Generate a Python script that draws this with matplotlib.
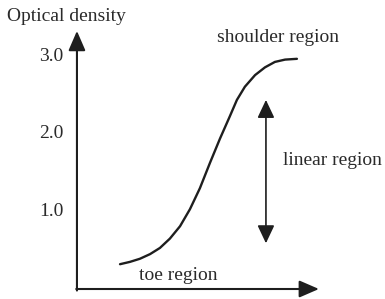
import matplotlib
matplotlib.use("Agg")
import matplotlib.pyplot as plt

# Data (x: relative log exposure units, y: optical density)
curve_x = [1.78, 2.19, 2.60, 3.02, 3.43, 3.84, 4.26, 4.67, 5.08, 5.50, 5.91,
           6.32, 6.61, 6.94, 7.36, 7.77, 8.18, 8.60, 9.09]
curve_y = [0.32, 0.35, 0.39, 0.45, 0.53, 0.65, 0.81, 1.03, 1.30, 1.63, 1.94,
           2.23, 2.44, 2.61, 2.76, 2.86, 2.93, 2.96, 2.97]
tick_vals = [1.0, 2.0, 3.0]
tick_labels = ["1.0", "2.0", "3.0"]
y_label = "Optical density"
region_labels = ["shoulder region", "linear region", "toe region"]
linear_range = [0.59, 2.44]

fig = plt.figure(figsize=(3.85, 2.99), dpi=100)
ax = fig.add_axes([0, 0, 1, 1])
ax.set_xlim(-3.18, 12.73)
ax.set_ylim(-0.129, 3.729)
ax.axis("off")

ink = "#1e1e1e"
txt = "#2a2a2a"
font = "Liberation Serif"
fs = 14

arrow_style = "-|>,head_length=1.2,head_width=0.52"
# axes arrows
ax.annotate("", xy=(0, 3.33), xytext=(0, -0.02),
            arrowprops=dict(arrowstyle=arrow_style, color=ink, lw=1.5,
                            shrinkA=0, shrinkB=0))
ax.annotate("", xy=(10.0, 0), xytext=(-0.03, 0),
            arrowprops=dict(arrowstyle=arrow_style, color=ink, lw=1.5,
                            shrinkA=0, shrinkB=0))

# characteristic curve
ax.plot(curve_x, curve_y, color=ink, lw=1.7, solid_capstyle="round",
        solid_joinstyle="round")

# linear region double arrow
ax.annotate("", xy=(7.81, linear_range[1]), xytext=(7.81, linear_range[0]),
            arrowprops=dict(arrowstyle="<|-|>,head_length=1.1,head_width=0.52",
                            color=ink, lw=1.2, shrinkA=0, shrinkB=0))

# tick labels
for v, lab in zip(tick_vals, tick_labels):
    ax.text(-0.55, v, lab, ha="right", va="center", fontsize=fs,
            family=font, color=txt)

ax.text(-2.89, 3.51, y_label, ha="left", va="center", fontsize=fs,
        family=font, color=txt)
ax.text(8.31, 3.25, region_labels[0], ha="center", va="center", fontsize=fs,
        family=font, color=txt)
ax.text(8.51, 1.66, region_labels[1], ha="left", va="center", fontsize=fs,
        family=font, color=txt)
ax.text(4.17, 0.18, region_labels[2], ha="center", va="center", fontsize=fs,
        family=font, color=txt)

fig.savefig("out.png", dpi=100)
